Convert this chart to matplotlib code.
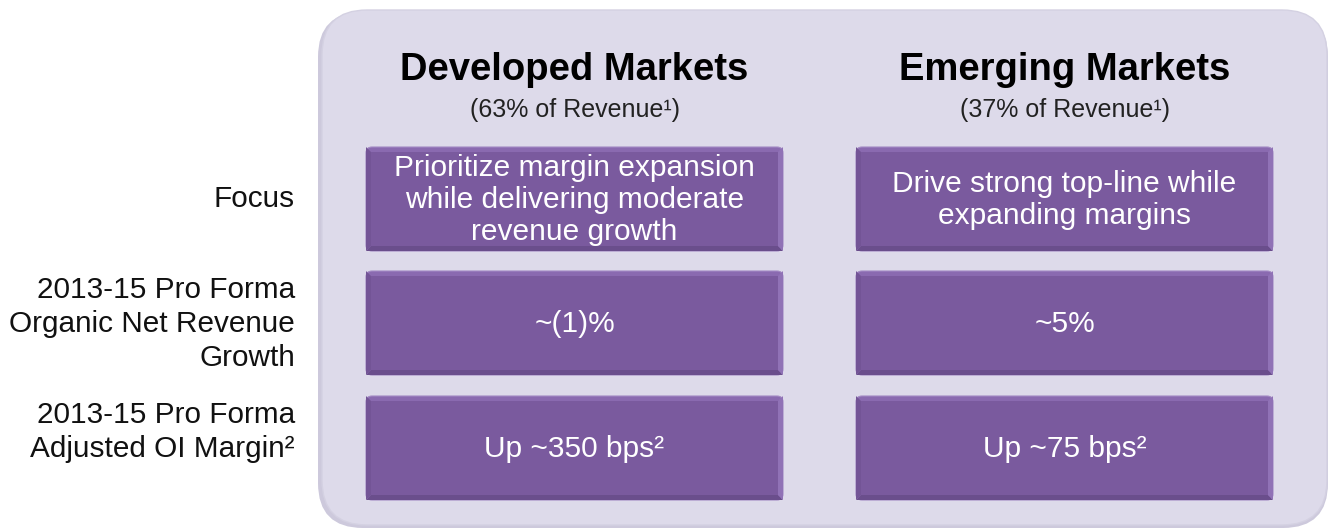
import matplotlib.pyplot as plt
from matplotlib.patches import FancyBboxPatch, Polygon

plt.rcParams["font.family"] = ["Liberation Sans", "DejaVu Sans"]

markets = ["Developed Markets", "Emerging Markets"]
revenue_share = ["(63% of Revenue¹)", "(37% of Revenue¹)"]
row_labels = [
    "Focus",
    "2013-15 Pro Forma\nOrganic Net Revenue\nGrowth",
    "2013-15 Pro Forma\nAdjusted OI Margin²",
]
cells = [
    ["Prioritize margin expansion\nwhile delivering moderate\nrevenue growth",
     "Drive strong top-line while\nexpanding margins"],
    ["~(1)%", "~5%"],
    ["Up ~350 bps²", "Up ~75 bps²"],
]

W, H = 1329, 529
fig = plt.figure(figsize=(W / 100, H / 100), dpi=100)
ax = fig.add_axes([0, 0, 1, 1])
ax.set_xlim(0, W)
ax.set_ylim(H, 0)
ax.axis("off")

# big panel
shadow = FancyBboxPatch((318, 12), 1010, 516, boxstyle="round,pad=0,rounding_size=45",
                        fc="#cdc9dc", ec="none")
ax.add_patch(shadow)
panel = FancyBboxPatch((322, 10), 1005, 515, boxstyle="round,pad=0,rounding_size=45",
                       fc="#dddaea", ec="#d4d1e2", lw=1)
ax.add_patch(panel)

col_x = [366, 856]
box_w = 417
row_y = [147, 271, 396]
box_h = 104
bev = 5
label_shift = [0, 1, -16]


def draw_box(x, y, text):
    # bevel: light top/right, darker bottom/left
    ax.add_patch(FancyBboxPatch((x, y), box_w, box_h, boxstyle="round,pad=0,rounding_size=6",
                                fc="#8a6ab0", ec="#a38ac4", lw=0.8))
    ax.add_patch(Polygon([(x, y + box_h), (x + bev, y + box_h - bev),
                          (x + box_w - bev, y + box_h - bev), (x + box_w, y + box_h)],
                         closed=True, fc="#6a4e8c", ec="none"))
    ax.add_patch(Polygon([(x + box_w, y), (x + box_w - bev, y + bev),
                          (x + box_w - bev, y + box_h - bev), (x + box_w, y + box_h)],
                         closed=True, fc="#9072b6", ec="none"))
    ax.add_patch(Polygon([(x, y), (x + bev, y + bev),
                          (x + bev, y + box_h - bev), (x, y + box_h)],
                         closed=True, fc="#735496", ec="none"))
    ax.add_patch(Polygon([(x + bev, y + bev), (x + box_w - bev, y + bev),
                          (x + box_w - bev, y + box_h - bev), (x + bev, y + box_h - bev)],
                         closed=True, fc="#7a5a9e", ec="none"))
    ax.text(x + box_w / 2, y + box_h / 2 + 1, text, ha="center", va="center",
            color="white", fontsize=21.5, linespacing=1.16)


for j, (m, s) in enumerate(zip(markets, revenue_share)):
    cx = col_x[j] + box_w / 2
    ax.text(cx, 70, m, ha="center", va="center", fontsize=27.5, fontweight="bold", color="black")
    ax.text(cx, 110, s, ha="center", va="center", fontsize=18, color="#222222")

for i, lab in enumerate(row_labels):
    cy = row_y[i] + box_h / 2 + label_shift[i]
    ax.text(295, cy, lab, ha="right", va="center", fontsize=21.4, color="#111111",
            linespacing=1.28)
    for j in range(2):
        draw_box(col_x[j], row_y[i], cells[i][j])

fig.savefig("out.png", dpi=100)
